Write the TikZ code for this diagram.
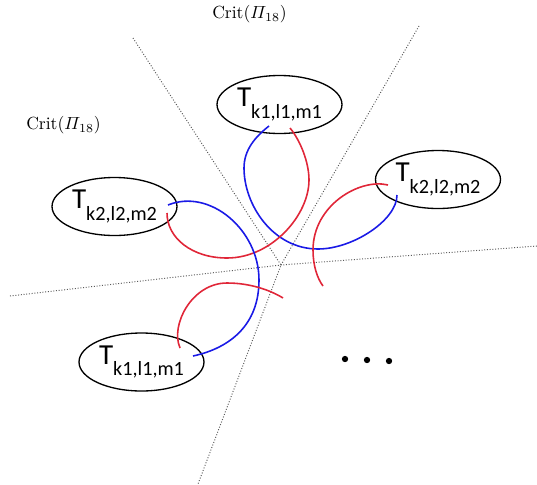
\documentclass[tikz,border=0pt]{standalone}
\usepackage{amsmath}
\usepackage{fontspec}
\usepackage{tikz}
\usetikzlibrary{shapes.geometric,calc}
\newfontfamily\tfont{Carlito}
\definecolor{loopblue}{HTML}{1A1AE6}
\definecolor{loopred}{HTML}{E02638}
\newcommand{\Tlab}[1]{\makebox[1.6cm][c]{\tfont\fontsize{16.5}{16.5}\selectfont T\raisebox{-6.5pt}{\fontsize{11.5}{11.5}\selectfont #1}}}
\newcommand{\crit}{Crit$(\varPi_{18})$}

\begin{document}
\begin{tikzpicture}[x=0.02cm,y=-0.02cm,
      tset/.style={draw,ellipse,line width=0.75pt,minimum width=2.5cm,minimum height=1.16cm,inner sep=0pt},
      cut/.style={densely dotted,gray!70!black,line width=0.55pt},
      bl/.style={loopblue,line width=0.9pt},
      rd/.style={loopred,line width=0.9pt}]
  \useasboundingbox (0,0) rectangle (537,484);
  % critical sets
  \coordinate (o) at (281,265);
  \coordinate (ul) at (133,38);
  \coordinate (ur) at (419,26);
  \coordinate (dl) at (198,484);
  \coordinate (w) at (10,296);
  \coordinate (e) at (537,246);
  \draw[cut] (ul)--(o)--(dl);
  \draw[cut] (ur)--(o);
  \draw[cut] (w)--(o)--(e);
  \node (crit1) at (249.5,14) {\crit};
  \node (crit2) at (63.5,125) {\crit};
  % tori
  \node[tset] (t1) at (279.5,104.5) {\Tlab{k1,l1,m1}};
  \node[tset] (t2) at (438,179.5) {\Tlab{k2,l2,m2}};
  \node[tset] (t3) at (114.5,206.5) {\Tlab{k2,l2,m2}};
  \node[tset] (t4) at (141.5,362) {\Tlab{k1,l1,m1}};
  \coordinate (f1) at (323,286);
  \coordinate (f2) at (283,298);
  % loops
  \draw[bl] ($(t1.center)+(-10.5,21.5)$) .. controls (255,137) and (244,150) .. (244,168)
     .. controls (244,205) and (273,249) .. (318,249)
     .. controls (353,249) and (397,220) .. ($(t2.center)+(-41,15.5)$);
  \draw[rd] ($(t1.center)+(10.5,23.5)$) .. controls (300,140) and (309,162) .. (309,180)
     .. controls (309,215) and (272,258) .. (227,258)
     .. controls (192,258) and (167,238) .. ($(t3.center)+(52.5,6.5)$);
  \draw[bl] ($(t3.center)+(53.5,-1.5)$) .. controls (210,188) and (259,230) .. (259,280)
     .. controls (259,325) and (230,348) .. ($(t4.center)+(51.5,-6)$);
  \draw[rd] ($(t2.center)+(-50,5.5)$) .. controls (360,178) and (313,205) .. (313,250)
     .. controls (313,265) and (317,278) .. (f1);
  \draw[rd] ($(t4.center)+(38.5,-14)$) .. controls (170,325) and (192,283) .. (227,283)
     .. controls (250,283) and (270,290) .. (f2);
  \foreach \x/\y in {345/359,367/360,389/361}
    \fill (\x,\y) circle (1.8pt);
\end{tikzpicture}
\end{document}
